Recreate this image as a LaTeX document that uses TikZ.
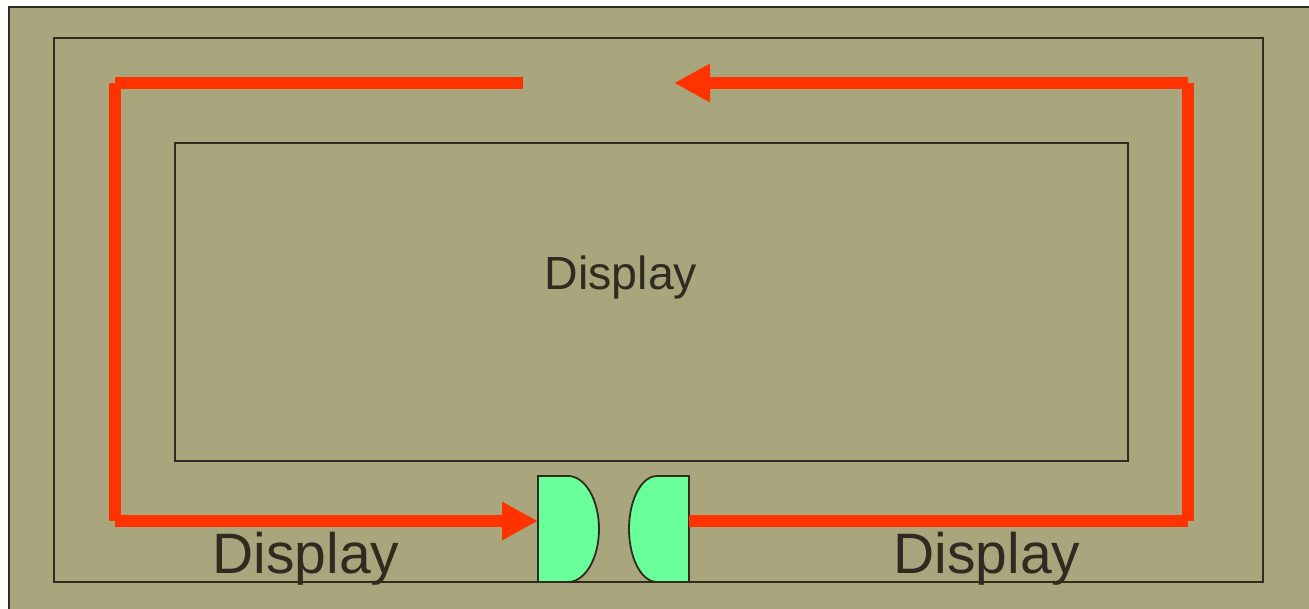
\documentclass[tikz,border=0pt]{standalone}
\usepackage{fontspec}
\setmainfont{Liberation Sans}
\usetikzlibrary{arrows.meta}
\definecolor{olive}{HTML}{A9A57C}
\definecolor{ink}{HTML}{302B21}
\definecolor{flow}{HTML}{FF3300}
\definecolor{doorgreen}{HTML}{69FF99}
\tikzset{
  frame/.style={draw=ink, line width=1.5pt},
  flowline/.style={draw=flow, line width=12pt, line cap=butt},
  flowarrow/.style={flowline, -{Triangle[length=36pt, width=36pt]}},
  doorshape/.style={fill=doorgreen, draw=ink, line width=1.8pt},
  label/.style={text=ink, anchor=base, inner sep=0pt}
}
\begin{document}
\begin{tikzpicture}[x=1pt, y=-1pt]
\clip (0,0) rectangle (1309,609);
\fill[white] (0,0) rectangle (1309,609);
% outer panel
\draw[fill=olive, draw=ink, line width=2.5pt] (9,7) rectangle (1340,640);
% frames
\draw[frame, line width=2pt] (54,38) rectangle (1263,582);
\draw[frame] (175,143) rectangle (1128,461);
% coordinates
\coordinate (tl) at (115,83);
\coordinate (topend) at (523,83);
\coordinate (bl) at (115,521);
\coordinate (dlw) at (538,521);
\coordinate (drw) at (689,521);
\coordinate (br) at (1188,521);
\coordinate (tr) at (1188,83);
\coordinate (toptip) at (674,83);
% doors
\draw[doorshape] (538,476) -- (568,476) arc[start angle=90, end angle=-90, x radius=31pt, y radius=53pt] -- (538,582) -- cycle;
\draw[doorshape] (689,476) -- (657,476) arc[start angle=90, end angle=270, x radius=28pt, y radius=53pt] -- (689,582) -- cycle;
% flow
\draw[flowline] (tl) -- (topend);
\draw[flowline] (tl) -- (bl);
\draw[flowarrow] (bl) -- (dlw);
\draw[flowline] (drw) -- (br);
\draw[flowline] (br) -- (tr);
\draw[flowarrow] (tr) -- (toptip);
% labels
\node[label, font=\fontsize{46.5}{50}\selectfont] (centre) at (621,290) {Display};
\node[label, font=\fontsize{57}{62}\selectfont] (leftlab) at (306,573) {Display};
\node[label, font=\fontsize{57}{62}\selectfont] (rightlab) at (987,573) {Display};
\end{tikzpicture}
\end{document}
